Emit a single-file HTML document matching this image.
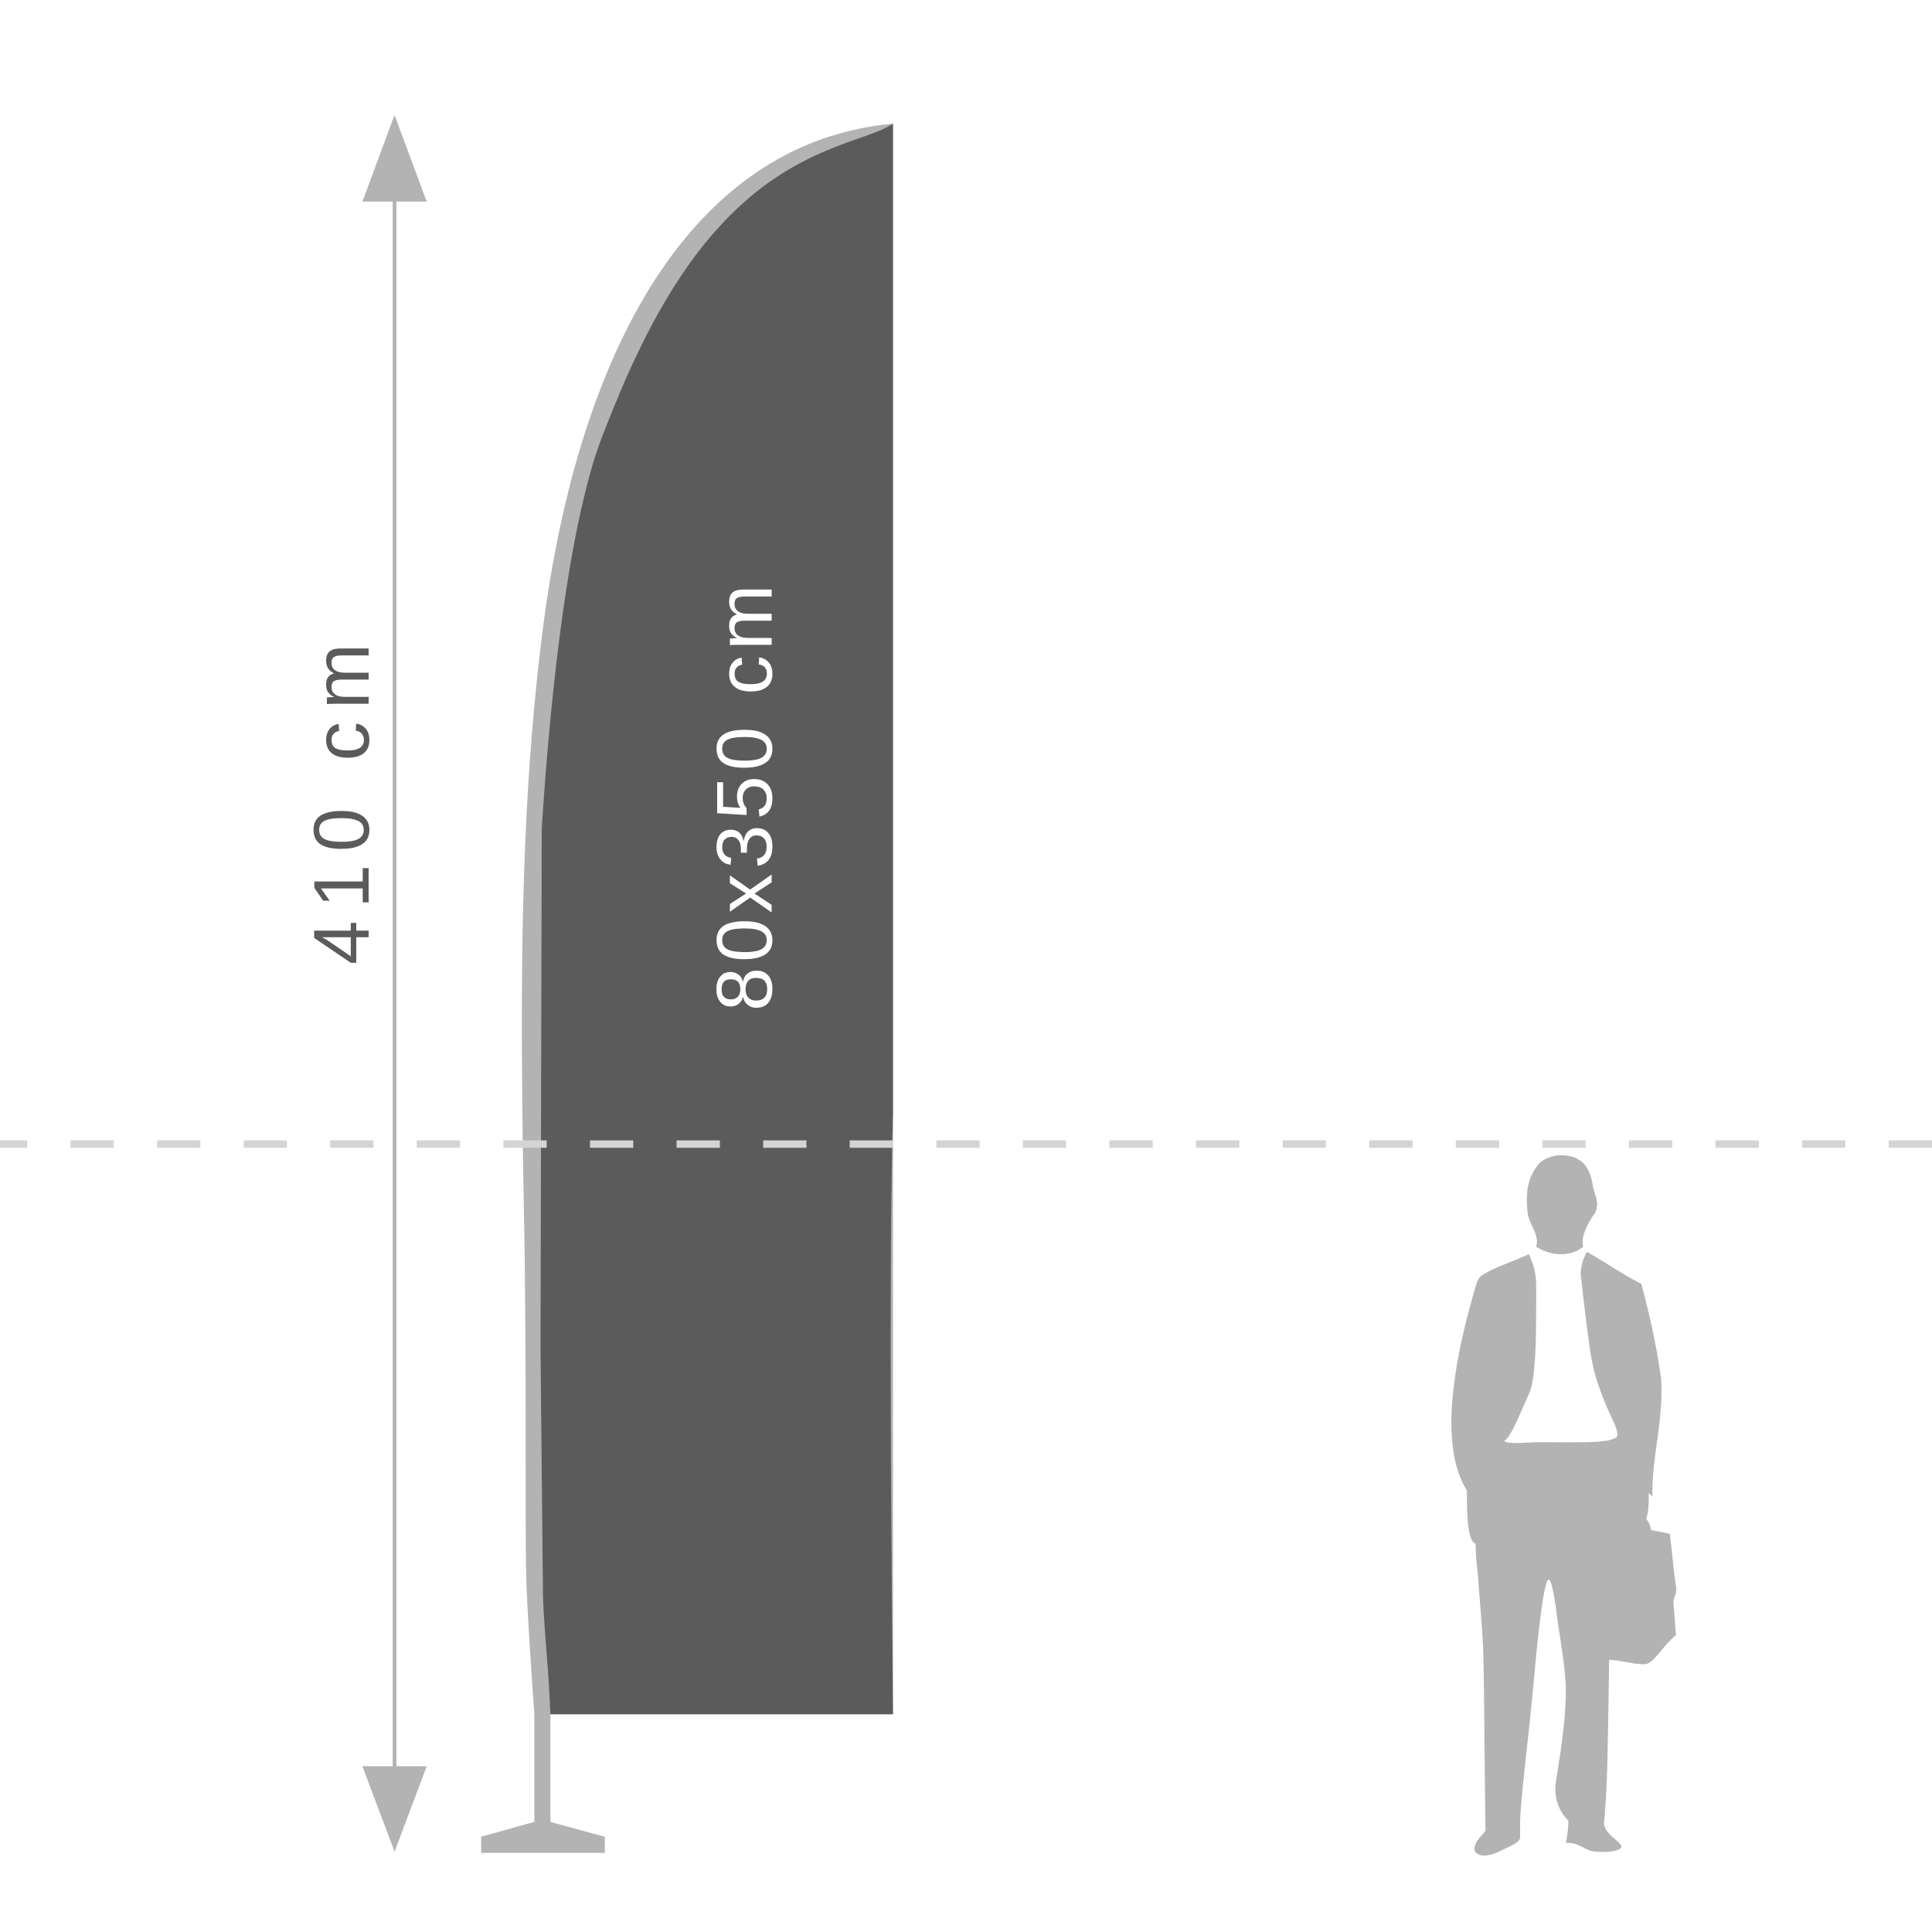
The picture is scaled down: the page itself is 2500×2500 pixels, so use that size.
<!DOCTYPE html>
<html><head><meta charset="utf-8"><style>html,body{margin:0;padding:0;background:#fff}svg{display:block}text{font-family:"Liberation Sans",sans-serif}</style></head>
<body>
<svg width="2500" height="2500" viewBox="0 0 1562 1562" xmlns="http://www.w3.org/2000/svg">
<rect width="1562" height="1562" fill="#fff"/>
<line x1="319" y1="160" x2="319" y2="1430" stroke="#b3b3b3" stroke-width="3"/>
<polygon points="319,93 293,163 345,163" fill="#b3b3b3"/>
<polygon points="293,1428 345,1428 319,1497" fill="#b3b3b3"/>
<text transform="translate(298,645) rotate(-90)" text-anchor="middle" font-size="64" fill="#5b5b5b" letter-spacing="10">410  cm</text>
<path d="M722,100 C560,115 470,280 440,500 C420,650 420,800 424,1000 C426,1150 424,1250 426,1290 C428,1330 431,1370 432,1386 L445,1386 L722,1386 Z" fill="#b3b3b3"/>
<rect x="432" y="1380" width="13" height="95" fill="#b3b3b3"/>
<polygon points="389,1485 432,1473 445,1473 489,1485 489,1498 389,1498" fill="#b3b3b3"/>
<path d="M722,100 C700,115 640,118 580,185 C530,240 500,320 488,350 C460,420 445,560 438,670 L437,1090 L439,1290 C440,1320 443,1340 445,1386 L722,1386 C720,1200 719,1000 722,900 L722,100 Z" fill="#5b5b5b"/>
<text transform="translate(624,643) rotate(-90)" text-anchor="middle" font-size="64" fill="#fff" letter-spacing="4">80x350 cm</text>
<line x1="0" y1="925" x2="1562" y2="925" stroke="#d4d4d4" stroke-width="6" stroke-dasharray="35 35" stroke-dashoffset="13"/>
<g fill="#b3b3b3">
<path d="M1262,934 C1280,934 1286,945 1288,960 C1290,968 1293,972 1290,980 C1283,990 1278,1000 1280,1008 C1270,1016 1255,1016 1242,1008 C1245,998 1236,990 1235,980 C1233,962 1236,950 1245,940 C1250,936 1256,934 1262,934 Z"/>
<path d="M1236,1014 C1240,1022 1242,1030 1242,1040 C1242,1080 1242,1110 1237,1125 C1230,1140 1222,1162 1216,1165 C1220,1168 1232,1166 1245,1166 C1280,1166 1300,1167 1307,1162 C1310,1158 1302,1145 1298,1135 C1290,1115 1287,1105 1284,1080 C1282,1065 1279,1040 1278,1030 C1278,1022 1281,1016 1283,1012 C1300,1022 1315,1032 1327,1038 C1335,1068 1340,1092 1343,1115 C1345,1150 1335,1180 1336,1210 L1333,1207 C1333,1215 1333,1222 1331,1228 C1334,1232 1334,1234 1335,1237 L1350,1240 C1352,1255 1353,1270 1355,1282 C1356,1290 1353,1290 1353,1296 L1355,1322 C1345,1330 1338,1343 1332,1345 C1325,1347 1310,1342 1301,1342 C1300,1400 1300,1440 1297,1472 C1295,1482 1310,1488 1311,1493 C1310,1498 1290,1498 1285,1496 C1280,1494 1275,1490 1268,1490 L1266,1490 C1268,1480 1268,1474 1268,1472 C1260,1464 1256,1453 1258,1440 C1262,1415 1266,1390 1266,1365 C1265,1340 1260,1320 1258,1300 C1255,1280 1253,1275 1251,1278 C1246,1290 1242,1340 1238,1380 C1234,1420 1230,1450 1229,1472 L1229,1486 C1228,1490 1222,1492 1214,1496 C1206,1500 1196,1503 1192,1496 C1192,1488 1198,1485 1201,1480 C1200,1400 1200,1360 1199,1330 C1198,1310 1196,1290 1195,1275 C1194,1265 1193,1256 1193,1248 C1186,1246 1186,1220 1186,1205 C1175,1188 1172,1162 1174,1135 C1177,1095 1188,1058 1193,1040 C1195,1034 1196,1032 1200,1030 C1212,1023 1226,1019 1236,1014 Z"/>
</g>
<path d="M1261,1024 C1266,1024 1270,1030 1265,1036 L1277,1148 C1276,1154 1270,1158 1265,1163 C1260,1160 1254,1157 1251,1153 L1258,1040 C1257,1033 1252,1033 1254,1030 C1256,1026 1258,1024 1261,1024 Z" fill="#fff"/>
</svg>
</body></html>
